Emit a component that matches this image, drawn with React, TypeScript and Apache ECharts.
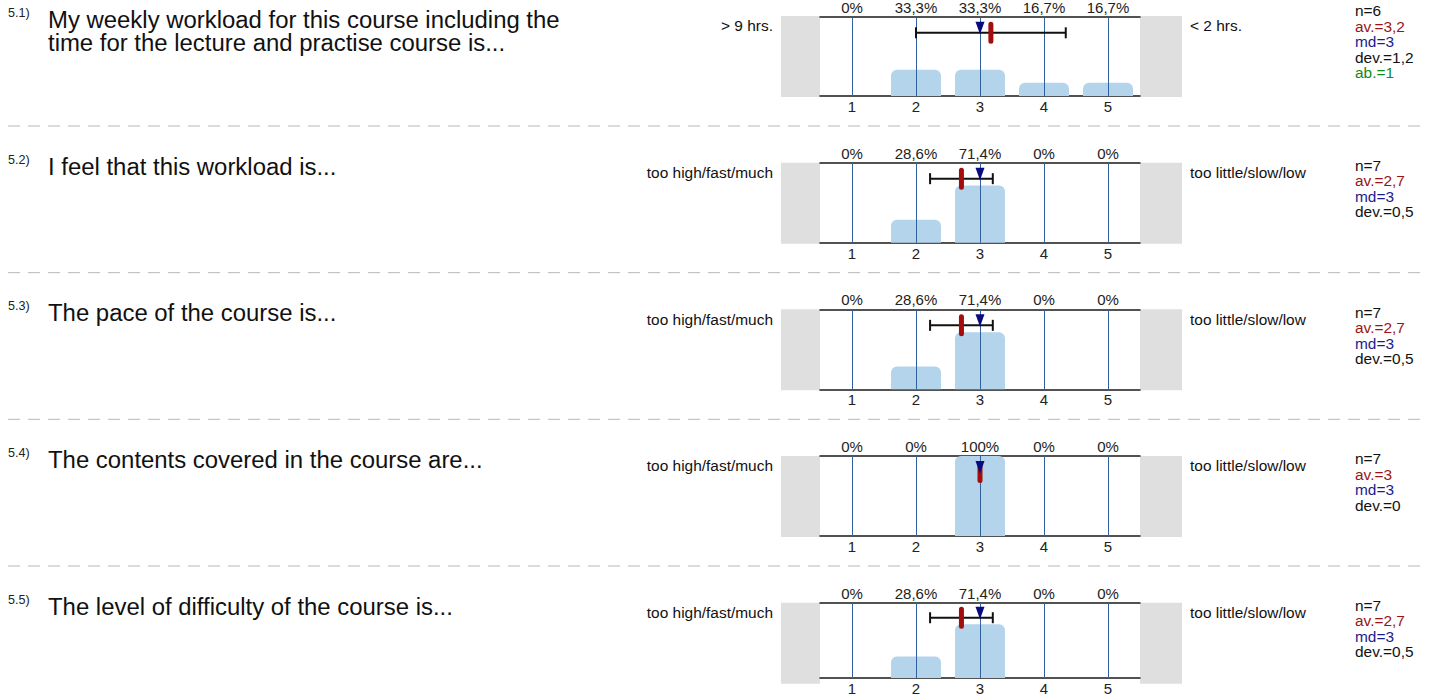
import React, { useEffect, useRef } from "react";
import * as echarts from "echarts";

const categories = ["1", "2", "3", "4", "5"];
const questionNumbers = ["5.1)", "5.2)", "5.3)", "5.4)", "5.5)"];
const questionTexts = [
  "My weekly workload for this course including the\ntime for the lecture and practise course is...",
  "I feel that this workload is...",
  "The pace of the course is...",
  "The contents covered in the course are...",
  "The level of difficulty of the course is...",
];
const leftLabels = ["> 9 hrs.", "too high/fast/much", "too high/fast/much", "too high/fast/much", "too high/fast/much"];
const rightLabels = ["< 2 hrs.", "too little/slow/low", "too little/slow/low", "too little/slow/low", "too little/slow/low"];

const pct51 = [0, 33.3, 33.3, 16.7, 16.7];
const pct52 = [0, 28.6, 71.4, 0, 0];
const pct53 = [0, 28.6, 71.4, 0, 0];
const pct54 = [0, 0, 100, 0, 0];
const pct55 = [0, 28.6, 71.4, 0, 0];
const percents = [pct51, pct52, pct53, pct54, pct55];

const counts = [6, 7, 7, 7, 7];
const means = [3.17, 2.71, 2.71, 3, 2.71];
const medians = [3, 3, 3, 3, 3];
const deviations = [1.17, 0.49, 0.49, 0, 0.49];
const abstentions: (number | null)[] = [1, null, null, null, null];

const FONT = "'Liberation Sans', Arial, Helvetica, sans-serif";

function fmt(v: number): string {
  const r = Math.round(v * 10) / 10;
  return Number.isInteger(r) ? String(r) : r.toFixed(1).replace(".", ",");
}

export default function App() {
  const ref = useRef<HTMLDivElement>(null);

  useEffect(() => {
    if (!ref.current) return;
    const chart = echarts.init(ref.current, undefined, { renderer: "svg" });

    const gridLeft = 820;
    const gridWidth = 320;
    const gridHeight = 80;
    const step = 146.67;
    const tops = percents.map((_, i) => 16 + i * step);
    const markerLevel = 80;

    const grids: any[] = [];
    const xAxes: any[] = [];
    const yAxes: any[] = [];
    const series: any[] = [];
    const graphics: any[] = [];

    const axisLine = { show: true, lineStyle: { color: "#1a1a1a", width: 1.5 } };

    percents.forEach((pct, i) => {
      const top = tops[i];
      grids.push({ left: gridLeft, top, width: gridWidth, height: gridHeight, containLabel: false });
      xAxes.push({
        gridIndex: i,
        type: "category",
        data: categories,
        position: "bottom",
        axisLine,
        axisTick: { show: false },
        splitLine: { show: false },
        axisLabel: { fontSize: 15, color: "#222", margin: 3, fontFamily: FONT },
      });
      xAxes.push({
        gridIndex: i,
        type: "category",
        data: pct.map((v) => fmt(v) + "%"),
        position: "top",
        axisLine,
        axisTick: { show: false },
        splitLine: { show: false },
        axisLabel: { fontSize: 15, color: "#222", margin: 2, fontFamily: FONT },
      });
      xAxes.push({ gridIndex: i, type: "value", min: 0.5, max: 5.5, show: false });
      yAxes.push({ gridIndex: i, type: "value", min: 0, max: 100, show: false });

      series.push({
        type: "bar",
        xAxisIndex: 3 * i,
        yAxisIndex: i,
        data: pct,
        barWidth: 50,
        silent: true,
        itemStyle: { color: "#b4d4eb", borderRadius: [6, 6, 0, 0] },
        markLine: {
          silent: true,
          symbol: ["none", "none"],
          label: { show: false },
          lineStyle: { color: "#2f619f", width: 1, type: "solid" },
          data: categories.map((c) => ({ xAxis: c })),
        },
      });

      series.push({
        type: "custom",
        xAxisIndex: 3 * i + 2,
        yAxisIndex: i,
        silent: true,
        z: 5,
        data: [[means[i], medians[i], deviations[i]]],
        renderItem: (params: any, api: any) => {
          const m = api.value(0);
          const md = api.value(1);
          const sd = api.value(2);
          const pMean = api.coord([m, markerLevel]);
          const pLo = api.coord([m - sd, markerLevel]);
          const pHi = api.coord([m + sd, markerLevel]);
          const pMed = api.coord([md, markerLevel]);
          const y = pMean[1];
          const black = { stroke: "#111", lineWidth: 2 };
          const children: any[] = [];
          if (sd > 0) {
            children.push({ type: "line", shape: { x1: pLo[0], y1: y, x2: pHi[0], y2: y }, style: black });
            children.push({ type: "line", shape: { x1: pLo[0], y1: y - 5.5, x2: pLo[0], y2: y + 5.5 }, style: black });
            children.push({ type: "line", shape: { x1: pHi[0], y1: y - 5.5, x2: pHi[0], y2: y + 5.5 }, style: black });
          }
          children.push({
            type: "rect",
            shape: { x: pMean[0] - 2.5, y: y - 11, width: 5, height: 22, r: 2.5 },
            style: { fill: "#a30d0d" },
          });
          children.push({
            type: "polygon",
            shape: { points: [[pMed[0] - 4.5, y - 11], [pMed[0] + 4.5, y - 11], [pMed[0], y + 1.5]] },
            style: { fill: "#0a0a80" },
          });
          return { type: "group", children };
        },
      });

      // side gray boxes
      graphics.push({ type: "rect", z: -1, shape: { x: 781, y: top, width: 39, height: gridHeight + 1 }, style: { fill: "#dfdfdf" } });
      graphics.push({ type: "rect", z: -1, shape: { x: 1140, y: top, width: 42, height: gridHeight + 1 }, style: { fill: "#dfdfdf" } });

      // question number & text
      graphics.push({
        type: "text",
        x: 8,
        y: top - 3,
        scaleX: 1.05,
        style: { text: questionNumbers[i], fontSize: 12, fill: "#222", fontFamily: FONT, verticalAlign: "middle", align: "left" },
      });
      graphics.push({
        type: "text",
        x: 48,
        y: top - 7.5,
        scaleX: 1.04,
        style: {
          text: questionTexts[i],
          fontSize: 23,
          lineHeight: 23,
          fill: "#111",
          fontFamily: FONT,
          verticalAlign: "top",
          align: "left",
        },
      });

      // left / right labels
      graphics.push({
        type: "text",
        x: 773,
        y: top + 10,
        scaleX: 1.03,
        style: { text: leftLabels[i], fontSize: 15, fill: "#111", fontFamily: FONT, verticalAlign: "middle", align: "right" },
      });
      graphics.push({
        type: "text",
        x: 1190,
        y: top + 10,
        scaleX: 1.03,
        style: { text: rightLabels[i], fontSize: 15, fill: "#111", fontFamily: FONT, verticalAlign: "middle", align: "left" },
      });

      // stats
      const stats: { t: string; c: string }[] = [
        { t: "n=" + counts[i], c: "#111" },
        { t: "av.=" + fmt(means[i]), c: "#9b1414" },
        { t: "md=" + fmt(medians[i]), c: "#1c1c8c" },
        { t: "dev.=" + fmt(deviations[i]), c: "#111" },
      ];
      if (abstentions[i] != null) stats.push({ t: "ab.=" + abstentions[i], c: "#138a13" });
      const lh = 15.5;
      stats.forEach((s, k) => {
        graphics.push({
          type: "text",
          x: 1355,
          y: top + 26 + (k - (stats.length - 1) / 2) * lh,
          scaleX: 1.03,
          style: { text: s.t, fontSize: 15, fill: s.c, fontFamily: FONT, verticalAlign: "middle", align: "left" },
        });
      });

      // dashed separator
      if (i < percents.length - 1) {
        const sy = top + 110;
        graphics.push({
          type: "line",
          shape: { x1: 8, y1: sy, x2: 1423, y2: sy },
          style: { stroke: "#b8b8b8", lineWidth: 1, lineDash: [12, 8] },
        });
      }
    });

    chart.setOption({
      animation: false,
      backgroundColor: "#ffffff",
      textStyle: { fontFamily: FONT },
      grid: grids,
      xAxis: xAxes,
      yAxis: yAxes,
      series,
      graphic: { elements: graphics },
    });

    return () => chart.dispose();
  }, []);

  return (
    <div
      ref={ref}
      style={{ position: "absolute", left: 0, top: 0, width: 1431, height: 696 }}
    />
  );
}
